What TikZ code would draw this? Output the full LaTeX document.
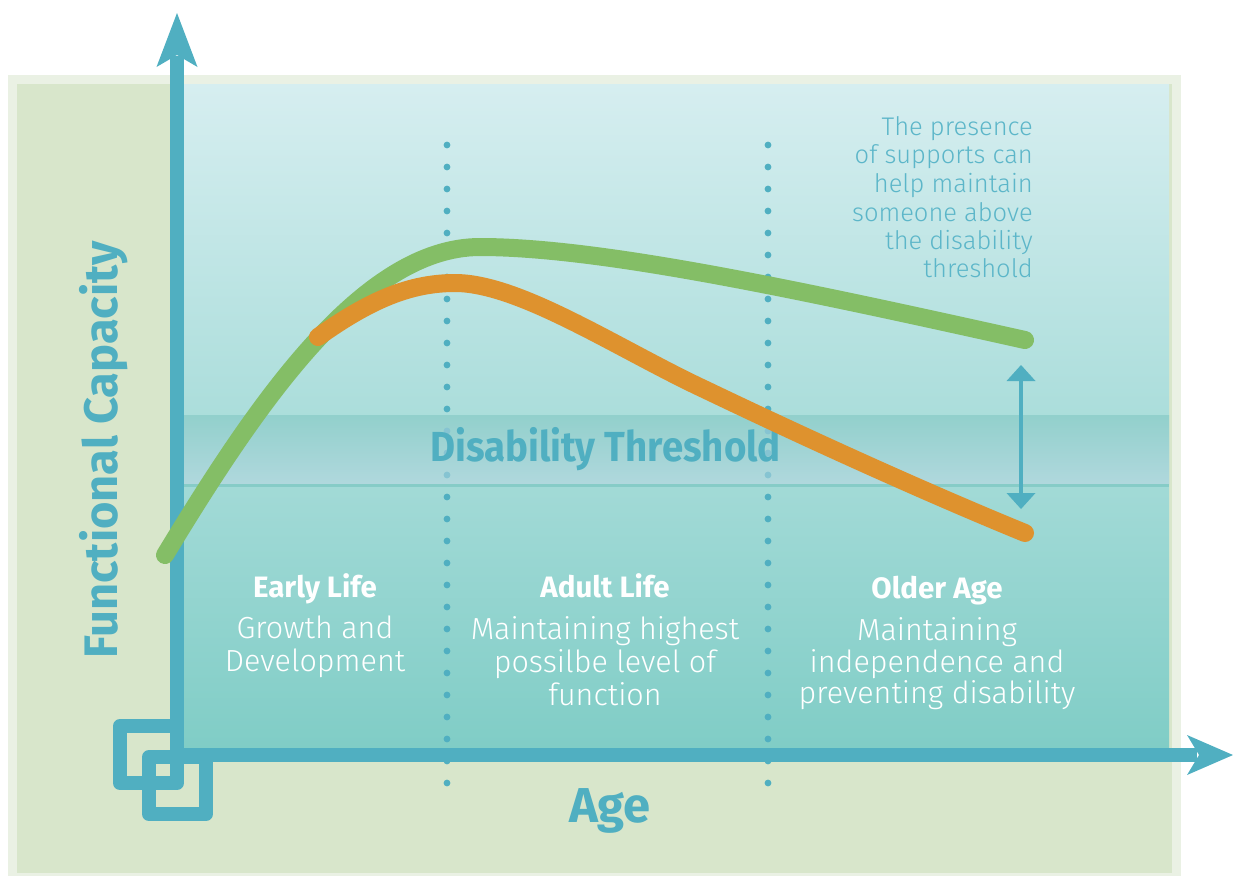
\documentclass[tikz,border=0pt]{standalone}
\usepackage{fontspec}
\setmainfont{Fira Sans}
\newfontfamily\lightfont{Fira Sans Light}
\definecolor{axisc}{RGB}{80,175,193}
\definecolor{outerc}{RGB}{234,241,228}
\definecolor{innerc}{RGB}{216,230,203}
\definecolor{bgtop}{RGB}{214,238,240}
\definecolor{bgmid}{RGB}{172,222,221}
\definecolor{bgbot}{RGB}{128,205,198}
\definecolor{bandtop}{RGB}{146,208,204}
\definecolor{bandbot}{RGB}{176,216,221}
\definecolor{bandline}{RGB}{134,204,199}
\definecolor{banddot}{RGB}{134,196,210}
\definecolor{greenc}{RGB}{132,190,102}
\definecolor{orangec}{RGB}{222,146,46}
\definecolor{notec}{RGB}{92,182,201}
\tikzset{
  dotc/.style={fill=axisc},
  curve/.style={line width=18pt, line cap=round, line join=round},
  phasetitle/.style={anchor=base, text=white, font=\bfseries\fontsize{29.5}{33}\selectfont, inner sep=0pt},
  phasetext/.style={anchor=base, text=white, font=\lightfont\fontsize{30.5}{33}\selectfont, inner sep=0pt},
  note/.style={anchor=base east, text=notec, font=\lightfont\fontsize{25.5}{28}\selectfont, inner sep=0pt},
  axislabel/.style={anchor=base, text=axisc, font=\bfseries, inner sep=0pt},
}
\begin{document}
\begin{tikzpicture}[x=1pt,y=-1pt]
\useasboundingbox (0,0) rectangle (1233,876);
% frame
\fill[outerc] (8,75) rectangle (1181,876);
\fill[innerc] (17,84) rectangle (1172,873);
\shade[top color=bgtop, middle color=bgmid, bottom color=bgbot] (183,84) rectangle (1169,748);
% threshold band
\shade[top color=bandtop, bottom color=bandbot] (183,415) rectangle (1169,484);
\fill[bandline] (183,483.5) rectangle (1169,487);
% dotted dividers
\foreach \xx in {447,768}{
  \foreach \yy in {145,167,...,409}{ \fill[dotc] (\xx,\yy) circle[radius=3.4pt]; }
  \foreach \yy in {431,453,475}{ \fill[banddot] (\xx,\yy) circle[radius=3.4pt]; }
  \foreach \yy in {497,519,...,783}{ \fill[dotc] (\xx,\yy) circle[radius=3.4pt]; }
}
\node[axislabel, font=\bfseries\fontsize{42}{48}\selectfont] (thr) at (605.5,461) {\scalebox{0.915}[1]{Disability Threshold}};
% axes
\fill[axisc] (170,56) rectangle (184,762);
\fill[axisc] (170,748) rectangle (1197,762);
\fill[axisc] (177,13) -- (197.5,67) -- (177,55) -- (156.5,67) -- cycle;
\fill[axisc] (1233,755) -- (1187,735) -- (1199,755) -- (1187,775) -- cycle;
\draw[axisc, line width=14pt, line join=round] (120,726) rectangle (177,783);
\draw[axisc, line width=14pt, line join=round] (149,757) rectangle (206,814);
% curves
\draw[curve, greenc] (165,555) .. controls (252,412) and (360,247) .. (480,247)
                               .. controls (600,247) and (800,290) .. (1025,340);
\draw[curve, orangec] (318,337) .. controls (370,300) and (410,283) .. (455,283)
                                .. controls (520,283) and (620,350) .. (706,390)
                                .. controls (800,435) and (920,490) .. (1025,533);
% double arrow
\coordinate (gapTop) at (1021,365);
\coordinate (gapBot) at (1021,509);
\fill[axisc] (1018.6,378) rectangle (1023.4,496);
\fill[axisc] (gapTop) -- ++(14.5,16) -- ++(-29,0) -- cycle;
\fill[axisc] (gapBot) -- ++(14.5,-16) -- ++(-29,0) -- cycle;
% axis labels
\node[axislabel, font=\bfseries\fontsize{47}{52}\selectfont, rotate=90] (fc) at (117,450) {Functional Capacity};
\node[axislabel, font=\bfseries\fontsize{49}{54}\selectfont] (age) at (610,822) {Age};
% phases
\node[phasetitle] (e1) at (315,597) {Early Life};
\node[phasetext] (e2) at (315,638) {Growth and};
\node[phasetext] (e3) at (315,671) {Development};
\node[phasetitle] (a1) at (605,597) {Adult Life};
\node[phasetext] (a2) at (605,639) {Maintaining highest};
\node[phasetext] (a3) at (605,672) {possilbe level of};
\node[phasetext] (a4) at (605,705) {function};
\node[phasetitle] (o1) at (937,598) {Older Age};
\node[phasetext] (o2) at (937,640) {Maintaining};
\node[phasetext] (o3) at (937,672) {independence and};
\node[phasetext] (o4) at (937,703) {preventing disability};
% note
\node[note] (n1) at (1033,135) {The presence};
\node[note] (n2) at (1033,163) {of supports can};
\node[note] (n3) at (1033,192) {help maintain};
\node[note] (n4) at (1033,221) {someone above};
\node[note] (n5) at (1033,249) {the disability};
\node[note] (n6) at (1033,277) {threshold};
\end{tikzpicture}
\end{document}
